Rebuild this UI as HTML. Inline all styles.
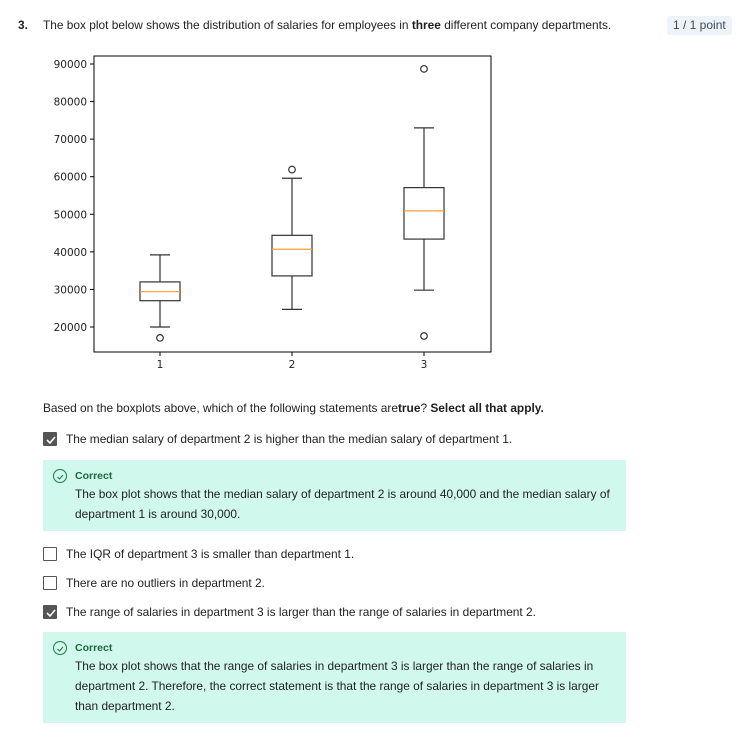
<!DOCTYPE html>
<html><head><meta charset="utf-8"><style>
body{margin:0;width:747px;height:738px;background:#fff;font-family:"Liberation Sans",sans-serif;color:#1f1f1f;position:relative;overflow:hidden}
.a{position:absolute;white-space:nowrap;font-size:11.9px}
.cb{position:absolute;left:43px;width:14px;height:14px;border:1px solid #555;border-radius:1px;box-sizing:border-box;background:#fff}
.cb.on{background:#555}
.fb{position:absolute;left:43px;width:583px;background:#d0f8ec}
.ok{position:absolute;left:10px;top:9px;width:14px;height:14px;border:1px solid #1a7a4c;border-radius:50%;box-sizing:border-box}
.ct{position:absolute;left:32px;top:10px;font-size:10.5px;font-weight:bold;color:#1a6a3e}
.ft{position:absolute;left:32px;top:24px;font-size:11.9px;line-height:20px;width:545px}
</style></head><body>
<div class="a" style="left:18px;top:18px;font-weight:bold">3.</div>
<div class="a" style="left:43px;top:18px">The box plot below shows the distribution of salaries for employees in <b>three</b> different company departments.</div>
<div class="a" style="left:667px;top:16px;padding:1px 6px;background:#eef3f9;border-radius:3px;color:#3b4a5a;font-size:12px;line-height:17px">1 / 1 point</div>
<svg id="chart" style="position:absolute;left:0;top:0" width="747" height="380"></svg>
<div class="a" style="left:43px;top:401px">Based on the boxplots above, which of the following statements are<b>true</b>? <b>Select all that apply.</b></div>
<div class="cb on" style="top:432px"><svg width="14" height="14"><path d="M3 7l3 3 5-6" stroke="#fff" stroke-width="1.6" fill="none"/></svg></div>
<div class="a" style="left:66px;top:432px">The median salary of department 2 is higher than the median salary of department 1.</div>
<div class="fb" style="top:460px;height:71px"><div class="ok"><svg width="12" height="12"><path d="M3.5 6l2 2 3.5-4" stroke="#1a7a4c" fill="none"/></svg></div><div class="ct">Correct</div><div class="ft">The box plot shows that the median salary of department 2 is around 40,000 and the median salary of department 1 is around 30,000.</div></div>
<div class="cb" style="top:547px"></div>
<div class="a" style="left:66px;top:547px">The IQR of department 3 is smaller than department 1.</div>
<div class="cb" style="top:576px"></div>
<div class="a" style="left:66px;top:576px">There are no outliers in department 2.</div>
<div class="cb on" style="top:605px"><svg width="14" height="14"><path d="M3 7l3 3 5-6" stroke="#fff" stroke-width="1.6" fill="none"/></svg></div>
<div class="a" style="left:66px;top:605px">The range of salaries in department 3 is larger than the range of salaries in department 2.</div>
<div class="fb" style="top:632px;height:91px"><div class="ok"><svg width="12" height="12"><path d="M3.5 6l2 2 3.5-4" stroke="#1a7a4c" fill="none"/></svg></div><div class="ct">Correct</div><div class="ft">The box plot shows that the range of salaries in department 3 is larger than the range of salaries in department 2. Therefore, the correct statement is that the range of salaries in department 3 is larger than department 2.</div></div>
<script>
const categories=["1","2","3"];
const whiskerLow=[20000,24700,29800];
const q1=[27000,33600,43400];
const median=[29400,40700,50900];
const q3=[32000,44400,57100];
const whiskerHigh=[39200,59600,73000];
const fliers=[[17100],[61900],[88700,17600]];
const yTicks=[20000,30000,40000,50000,60000,70000,80000,90000];
const NS="http://www.w3.org/2000/svg";
const svg=document.getElementById('chart');
const L=94,R=491,T=56,B=352;
function y(v){return 327-(v-20000)*(263/70000);}
function x(i){return 160+i*132;}
function mk(t,a,p){const e=document.createElementNS(NS,t);for(const k in a)e.setAttribute(k,a[k]);(p||svg).appendChild(e);return e;}
const frame=mk('rect',{x:L,y:T,width:R-L,height:B-T,fill:'none',stroke:'#000','stroke-width':1});


yTicks.forEach(v=>{
 mk('line',{x1:L-4,x2:L,y1:y(v),y2:y(v),stroke:'#000'});
 const t=mk('text',{x:L-7,y:y(v)+4,'text-anchor':'end','font-size':'10.5','font-family':'DejaVu Sans,sans-serif',fill:'#222'});
 t.textContent=v;
 
 
});
categories.forEach((c,i)=>{
 const cx=x(i);
 mk('line',{x1:cx,x2:cx,y1:B,y2:B+4,stroke:'#000'});
 const t=mk('text',{x:cx,y:B+16,'text-anchor':'middle','font-size':'10.5','font-family':'DejaVu Sans,sans-serif',fill:'#222'});
 t.textContent=c;
 
 
 const g=mk('g',{stroke:'#333','stroke-width':1.2,fill:'none'});
 
 
 mk('line',{x1:cx,x2:cx,y1:y(q1[i]),y2:y(whiskerLow[i])},g);
 mk('line',{x1:cx,x2:cx,y1:y(q3[i]),y2:y(whiskerHigh[i])},g);
 mk('line',{x1:cx-10,x2:cx+10,y1:y(whiskerLow[i]),y2:y(whiskerLow[i])},g);
 mk('line',{x1:cx-10,x2:cx+10,y1:y(whiskerHigh[i]),y2:y(whiskerHigh[i])},g);
 mk('rect',{x:cx-20,y:y(q3[i]),width:40,height:y(q1[i])-y(q3[i])},g);
 mk('line',{x1:cx-20,x2:cx+20,y1:y(median[i]),y2:y(median[i]),stroke:'#ff9a3c'},g);
 fliers[i].forEach(f=>{mk('circle',{cx:cx,cy:y(f),r:3.3},g);});
});
</script>
</body></html>
